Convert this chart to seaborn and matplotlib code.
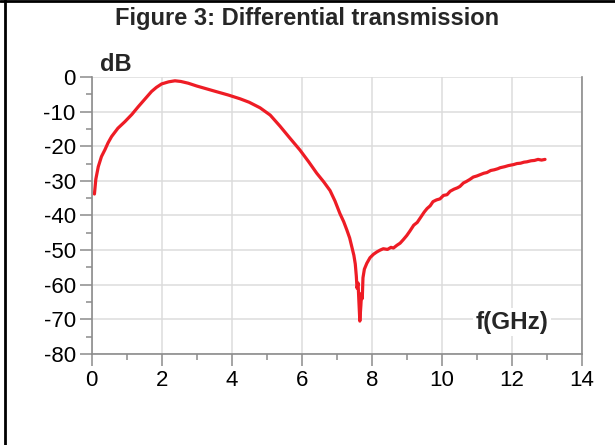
import pandas as pd
import matplotlib.pyplot as plt
import seaborn as sns
from matplotlib.lines import Line2D
from matplotlib.ticker import MultipleLocator, FuncFormatter

freq_ghz = [0.08, 0.12, 0.19, 0.28, 0.38, 0.47, 0.57, 0.75, 0.95, 1.15, 1.33, 1.52, 1.71, 1.85,
            2.0, 2.2, 2.38, 2.55, 2.76, 3.0, 3.24, 3.55, 3.9, 4.24, 4.5, 4.81, 5.1, 5.38, 5.65,
            5.95, 6.2, 6.43, 6.63, 6.81, 6.95, 7.09, 7.2, 7.29, 7.37, 7.43, 7.49, 7.53, 7.56,
            7.58, 7.61, 7.63, 7.66, 7.69, 7.71, 7.73, 7.75, 7.79, 7.86, 7.95, 8.05, 8.15, 8.24,
            8.33, 8.45, 8.55, 8.62, 8.72, 8.81, 8.9, 9.0, 9.09, 9.2, 9.3, 9.38, 9.5, 9.58, 9.67,
            9.75, 9.85, 9.95, 10.05, 10.15, 10.24, 10.35, 10.45, 10.52, 10.62, 10.7, 10.8, 10.9,
            11.0, 11.1, 11.2, 11.29, 11.4, 11.5, 11.6, 11.67, 11.8, 11.9, 12.05, 12.15, 12.25,
            12.35, 12.43, 12.55, 12.65, 12.75, 12.85, 12.95]
s21_db = [-33.8, -29.5, -25.9, -23.0, -21.0, -19.0, -17.2, -14.8, -12.9, -10.8, -8.6, -6.4, -4.2, -3.0,
          -2.0, -1.4, -1.1, -1.3, -1.8, -2.6, -3.3, -4.2, -5.2, -6.3, -7.3, -8.9, -11.0, -14.2, -17.5,
          -21.1, -24.5, -27.8, -30.3, -32.8, -35.8, -39.4, -41.8, -44.2, -46.5, -49.0, -51.5, -54.0, -57.5,
          -61.0, -59.5, -64.0, -70.5, -66.0, -62.5, -64.0, -58.0, -55.5, -53.8, -52.2, -51.2, -50.5, -50.0,
          -49.6, -49.8, -49.2, -49.4, -48.6, -48.0, -47.0, -45.8, -44.5, -42.8, -42.0, -40.8, -39.0, -38.0, -37.2,
          -36.0, -35.5, -35.2, -34.2, -34.0, -33.0, -32.4, -32.0, -31.6, -30.6, -30.2, -29.6, -28.9,
          -28.6, -28.2, -27.8, -27.6, -27.0, -26.8, -26.5, -26.2, -25.9, -25.6, -25.3, -25.0, -24.9,
          -24.6, -24.5, -24.2, -24.1, -23.8, -24.0, -23.8]

df = pd.DataFrame({'freq': freq_ghz, 'dB': s21_db})

sns.set_style('white')
plt.rcParams['font.family'] = ['Liberation Sans', 'DejaVu Sans']
plt.rcParams['axes.unicode_minus'] = False

fig = plt.figure(figsize=(6.15, 4.45), dpi=100)
ax = fig.add_axes([0.149, 0.2045, 0.797, 0.6225])

sns.lineplot(data=df, x='freq', y='dB', color='#ee1c25', linewidth=2.3,
             sort=False, estimator=None, ax=ax)

ax.set_xlim(0, 14)
ax.set_ylim(-80, 0)
ax.xaxis.set_major_locator(MultipleLocator(2))
ax.xaxis.set_minor_locator(MultipleLocator(1))
ax.yaxis.set_major_locator(MultipleLocator(10))
ax.yaxis.set_minor_locator(MultipleLocator(5))
ax.xaxis.set_major_formatter(FuncFormatter(lambda v, p: f'{v:.0f}'))
ax.yaxis.set_major_formatter(FuncFormatter(lambda v, p: f'{v:.0f}'))
ax.grid(True, which='major', color='#dcdcdc', linewidth=1.1)
ax.set_axisbelow(True)
ax.set_xlabel('')
ax.set_ylabel('')

for side in ['left', 'bottom', 'right']:
    ax.spines[side].set_color('#8c8c8c')
    ax.spines[side].set_linewidth(1.2)
ax.spines['top'].set_visible(False)

ax.tick_params(which='major', direction='out', length=8.5, width=1.1, color='#8c8c8c',
               labelsize=16, labelcolor='black', pad=3, bottom=True, left=True)
ax.tick_params(which='minor', direction='out', length=4, width=1.1, color='#8c8c8c',
               bottom=True, left=True)

ax.text(0.05, 1.045, 'dB', transform=ax.transAxes, fontsize=17, fontweight='bold',
        ha='center', va='center')
ax.text(12.0, -70.8, 'f(GHz)', fontsize=17.5, fontweight='bold', ha='center', va='center',
        bbox=dict(facecolor='white', edgecolor='none', pad=2))

fig.text(0.5, 1 - 18 / 445, 'Figure 3: Differential transmission', fontsize=17,
         fontweight='bold', ha='center', va='center')

# frame lines at top and left edge
fig.add_artist(Line2D([0, 1], [1 - 1.2 / 445] * 2, transform=fig.transFigure, color='black', lw=2))
fig.add_artist(Line2D([4.5 / 615] * 2, [0, 1], transform=fig.transFigure, color='black', lw=2))

fig.savefig('out.png', dpi=100)
